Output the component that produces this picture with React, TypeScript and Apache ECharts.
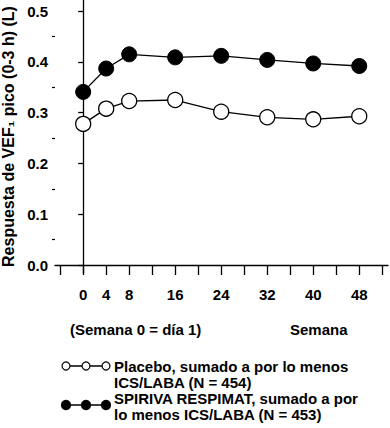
import React, { useEffect, useRef } from "react";
import * as echarts from "echarts";

const weeks = [0, 4, 8, 16, 24, 32, 40, 48];
const placebo = [0.278, 0.308, 0.323, 0.325, 0.302, 0.291, 0.287, 0.293];
const spiriva = [0.341, 0.387, 0.415, 0.409, 0.412, 0.404, 0.397, 0.392];
const xTickLabels = [0, 4, 8, 16, 24, 32, 40, 48];
const xTicks = [-4, 0, 4, 8, 12, 16, 20, 24, 28, 32, 36, 40, 44, 48, 52];
const yTickLabels = [0, 0.1, 0.2, 0.3, 0.4, 0.5];
const yMinorTicks = [0.05, 0.15, 0.25, 0.35, 0.45];
const placeboName = ["Placebo, sumado a por lo menos", "ICS/LABA (N = 454)"];
const spirivaName = ["SPIRIVA RESPIMAT, sumado a por", "lo menos ICS/LABA (N = 453)"];
const yAxisTitle = "Respuesta de VEF₁ pico (0-3 h) (L)";
const noteLeft = "(Semana 0 = día 1)";
const noteRight = "Semana";

const FONT = "'Liberation Sans', Arial, sans-serif";

export default function App() {
  const ref = useRef<HTMLDivElement>(null);
  useEffect(() => {
    if (!ref.current) return;
    const chart = echarts.init(ref.current, null, { renderer: "svg" });
    const yMin = -0.0157;
    const yMax = 0.522;
    const legendIcon = (y: number, filled: boolean, r: number) => {
      const xs = [66, 86, 106];
      const els: any[] = [
        {
          type: "line",
          shape: { x1: xs[0], y1: y, x2: xs[2], y2: y },
          style: { stroke: "#000", lineWidth: 1.3 },
        },
      ];
      xs.forEach((x) =>
        els.push({
          type: "circle",
          shape: { cx: x, cy: y, r },
          style: { fill: filled ? "#000" : "#fff", stroke: "#000", lineWidth: 1.2 },
        })
      );
      return els;
    };
    const textEl = (x: number, y: number, t: string, size: number) => ({
      type: "text",
      x,
      y,
      style: {
        text: t,
        fill: "#000",
        font: `bold ${size}px ${FONT}`,
        textVerticalAlign: "middle",
      },
    });
    chart.setOption({
      animation: false,
      backgroundColor: "#fff",
      textStyle: { fontFamily: FONT },
      grid: { left: 55, right: 2, top: 0, height: 273, outerBoundsMode: "none", containLabel: false },
      xAxis: {
        type: "value",
        min: -4.9,
        max: 53,
        axisLine: { show: true, lineStyle: { color: "#000", width: 1.3 } },
        axisTick: {
          show: true,
          length: 10,
          customValues: xTicks,
          lineStyle: { color: "#000", width: 1.3 },
        },
        axisLabel: {
          customValues: xTickLabels,
          color: "#000",
          fontWeight: "bold",
          fontSize: 15,
          fontFamily: FONT,
          margin: 14,
        },
        splitLine: { show: false },
      },
      yAxis: [
        {
          type: "value",
          min: yMin,
          max: yMax,
          name: yAxisTitle,
          nameLocation: "middle",
          nameRotate: 90,
          nameGap: 32,
          nameTextStyle: { color: "#000", fontWeight: "bold", fontSize: 16, fontFamily: FONT },
          axisLine: { show: true, lineStyle: { color: "#000", width: 1.3 } },
          axisTick: {
            show: true,
            length: 5,
            customValues: yTickLabels,
            lineStyle: { color: "#000", width: 1.3 },
          },
          axisLabel: {
            customValues: yTickLabels,
            formatter: (v: number) => v.toFixed(1),
            color: "#000",
            fontWeight: "bold",
            fontSize: 15,
            fontFamily: FONT,
            margin: 7,
          },
          splitLine: { show: false },
        },
        {
          type: "value",
          min: yMin,
          max: yMax,
          position: "left",
          axisLine: { show: false },
          axisTick: {
            show: true,
            length: 3,
            customValues: yMinorTicks,
            lineStyle: { color: "#000", width: 1.2 },
          },
          axisLabel: { show: false },
          splitLine: { show: false },
        },
      ],
      series: [
        {
          name: placeboName.join(" "),
          type: "line",
          data: weeks.map((w, i) => [w, placebo[i]]),
          symbol: "circle",
          symbolSize: 15,
          lineStyle: { color: "#000", width: 1.3 },
          itemStyle: { color: "#fff", borderColor: "#000", borderWidth: 1.3 },
          z: 3,
        },
        {
          name: spirivaName.join(" "),
          type: "line",
          data: weeks.map((w, i) => [w, spiriva[i]]),
          symbol: "circle",
          symbolSize: 15,
          lineStyle: { color: "#000", width: 1.3 },
          itemStyle: { color: "#000", borderColor: "#000", borderWidth: 1 },
          z: 3,
        },
      ],
      graphic: [
        textEl(70, 329, noteLeft, 15),
        textEl(290, 329, noteRight, 15),
        ...legendIcon(366, false, 4),
        textEl(114, 366, placeboName[0], 15),
        textEl(114, 382, placeboName[1], 15),
        ...legendIcon(405, true, 4.5),
        textEl(114, 398, spirivaName[0], 15),
        textEl(114, 414, spirivaName[1], 15),
      ],
    });
    return () => chart.dispose();
  }, []);
  return <div ref={ref} style={{ width: 390, height: 428, position: "absolute", left: 0, top: 0 }} />;
}
